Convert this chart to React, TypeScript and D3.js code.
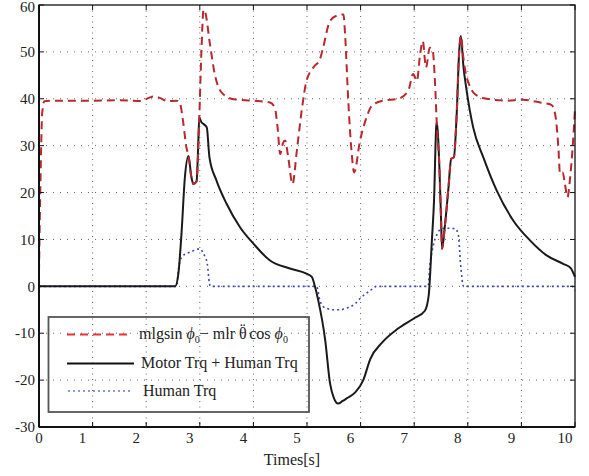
import * as d3 from 'd3';

// mlgsin(phi0) - mlr theta'' cos(phi0)
const gravityT = [0, 0.03, 0.06, 0.1, 0.3, 1.0, 1.5, 1.9, 2.05, 2.15, 2.25, 2.4, 2.57, 2.63, 2.69, 2.75, 2.79, 2.84, 2.88, 2.94, 2.99, 3.03, 3.07, 3.1, 3.19, 3.28, 3.41, 3.63, 4.0, 4.31, 4.4, 4.45, 4.5, 4.55, 4.59, 4.65, 4.73, 4.81, 4.9, 4.99, 5.12, 5.24, 5.3, 5.43, 5.55, 5.68, 5.71, 5.77, 5.83, 5.88, 5.99, 6.11, 6.21, 6.42, 6.7, 6.89, 6.98, 7.05, 7.11, 7.16, 7.22, 7.29, 7.34, 7.39, 7.42, 7.47, 7.5, 7.52, 7.57, 7.64, 7.69, 7.74, 7.79, 7.84, 7.87, 7.92, 7.97, 8.01, 8.13, 8.35, 8.72, 9.03, 9.35, 9.56, 9.63, 9.69, 9.72, 9.77, 9.81, 9.86, 9.91, 9.96, 10.0];
const gravityV = [3, 24, 37, 39.5, 39.6, 39.6, 39.7, 39.5, 40.2, 40.5, 40.2, 39.5, 39.6, 39.0, 35, 29.6, 27.8, 23.5, 21.8, 22.4, 36, 50, 59, 58.5, 51.6, 45.2, 41.3, 39.9, 39.6, 39.2, 38.1, 34, 28.2, 30.5, 31.1, 27.5, 21.8, 28.9, 37.4, 43.8, 46.7, 48.4, 50.9, 56.6, 57.7, 58.0, 53.8, 39.6, 28.9, 24.3, 31.1, 36, 38.5, 39.6, 40, 41.7, 45.3, 43.8, 49.5, 52.3, 46.7, 50.9, 50.6, 43.1, 35, 25.4, 14.7, 8.0, 12.6, 21.1, 27.2, 27.5, 36, 50.2, 53.4, 48.5, 45, 43.5, 41, 40, 39.6, 39.8, 39.2, 38.7, 36.7, 29.6, 24, 24.3, 22, 19, 23.3, 30.3, 37.9];

// Motor Trq + Human Trq
const totalT = [0, 2.54, 2.6, 2.66, 2.72, 2.79, 2.84, 2.88, 2.94, 2.97, 2.99, 3.03, 3.07, 3.13, 3.18, 3.31, 3.5, 3.75, 4.0, 4.31, 4.68, 4.99, 5.09, 5.15, 5.21, 5.34, 5.43, 5.5, 5.58, 5.66, 5.74, 5.9, 6.05, 6.18, 6.4, 6.7, 7.0, 7.2, 7.27, 7.33, 7.37, 7.41, 7.42, 7.47, 7.5, 7.52, 7.57, 7.64, 7.69, 7.74, 7.79, 7.84, 7.87, 7.92, 7.97, 8.1, 8.29, 8.54, 8.85, 9.16, 9.47, 9.78, 9.92, 10.0];
const totalV = [0, 0, 2.7, 11.5, 23, 27.8, 23.5, 21.8, 22.4, 30, 36, 35, 34.6, 33.9, 27.5, 22.6, 17.6, 12.6, 9.1, 5.5, 3.8, 2.7, 2.0, -0.1, -3, -11.5, -20.7, -23.8, -25, -24.5, -23.9, -22.6, -20, -15.5, -12, -9, -6.8, -5.2, -2, 9.8, 18.3, 33.9, 35, 25.4, 14.7, 8.0, 12.6, 21.1, 27.2, 27.5, 36, 50.2, 53.4, 46.7, 42.4, 33.9, 27.5, 20.4, 14, 9.8, 6.6, 4.8, 3.9, 2];

// Human Trq
const humanT = [0, 2.57, 2.6, 2.66, 2.75, 2.82, 3.0, 3.06, 3.1, 3.14, 3.18, 3.2, 5.18, 5.24, 5.3, 5.37, 5.5, 5.62, 5.75, 5.9, 5.99, 6.18, 6.3, 7.26, 7.29, 7.35, 7.43, 7.5, 7.57, 7.76, 7.82, 7.87, 7.92, 9.95, 10.0];
const humanV = [0, 0, 3.4, 6.2, 7, 7.3, 8.0, 7.2, 6.2, 4.8, 0.6, 0, 0, -3, -4.3, -4.7, -5, -5, -4.6, -3.7, -2.6, -0.9, 0, 0, 4.1, 8.4, 11.2, 12.2, 12.4, 12.3, 11.2, 4.1, 0, 0, -0.9];

const xTicks = [0, 1, 2, 3, 4, 5, 6, 7, 8, 9, 10];
const yTicks = [-30, -20, -10, 0, 10, 20, 30, 40, 50, 60];

const font = '"Liberation Serif", "DejaVu Serif", serif';

export default function App() {
  const width = 589;
  const height = 476;
  const margin = { top: 5, right: 14, bottom: 49, left: 39 };

  const x = d3.scaleLinear().domain([0, 10]).range([margin.left, width - margin.right]);
  const y = d3.scaleLinear().domain([-30, 60]).range([height - margin.bottom, margin.top]);

  const line = d3
    .line<[number, number]>()
    .x((d) => x(d[0]))
    .y((d) => y(d[1]))
    .curve(d3.curveMonotoneX);

  const zip = (t: number[], v: number[]) => t.map((d, i) => [d, v[i]] as [number, number]);

  const x0 = x.range()[0];
  const x1 = x.range()[1];
  const y0 = y.range()[0];
  const y1 = y.range()[1];

  return (
    <svg width={width} height={height} style={{ position: 'absolute', left: 0, top: 0, background: '#fff' }}>
      {/* grid */}
      {xTicks.slice(1, -1).map((t) => (
        <line key={'gx' + t} x1={x(t)} x2={x(t)} y1={y1} y2={y0} stroke="#666" strokeWidth={1} strokeDasharray="1,4.5" />
      ))}
      {yTicks.slice(1, -1).map((v) => (
        <line key={'gy' + v} x1={x0} x2={x1} y1={y(v)} y2={y(v)} stroke="#666" strokeWidth={1} strokeDasharray="1,6" />
      ))}

      {/* series */}
      <path d={line(zip(humanT, humanV)) ?? ''} fill="none" stroke="#3a48b0" strokeWidth={1.6} strokeDasharray="2,3" />
      <path d={line(zip(totalT, totalV)) ?? ''} fill="none" stroke="#1a1a1a" strokeWidth={2} />
      <path d={line(zip(gravityT, gravityV)) ?? ''} fill="none" stroke="#b8282e" strokeWidth={2} strokeDasharray="8,5" />

      {/* frame & ticks */}
      <rect x={x0} y={y1} width={x1 - x0} height={y0 - y1} fill="none" stroke="#111" strokeWidth={1.3} />
      <line x1={x0} x2={x0} y1={y1} y2={y0} stroke="#111" strokeWidth={2} />
      <line x1={x0} x2={x1} y1={y0} y2={y0} stroke="#111" strokeWidth={2} />
      {xTicks.map((t) => (
        <g key={'tx' + t}>
          <line x1={x(t)} x2={x(t)} y1={y0} y2={y0 - 5} stroke="#111" />
          <line x1={x(t)} x2={x(t)} y1={y1} y2={y1 + 5} stroke="#111" />
          <text x={x(t) - (t === 0 ? 0 : 10)} y={y0 + 16} textAnchor="middle" fontFamily={font} fontSize={15} fill="#222">
            {t}
          </text>
        </g>
      ))}
      {yTicks.map((v) => (
        <g key={'ty' + v}>
          <line x1={x0} x2={x0 + 5} y1={y(v)} y2={y(v)} stroke="#111" />
          <line x1={x1} x2={x1 - 5} y1={y(v)} y2={y(v)} stroke="#111" />
          <text x={x0 - 4} y={Math.max(y(v), 6.5)} dy="0.35em" textAnchor="end" fontFamily={font} fontSize={15} fill="#222">
            {v}
          </text>
        </g>
      ))}
      <text x={292} y={465} textAnchor="middle" fontFamily={font} fontSize={16} fill="#222">
        Times[s]
      </text>

      {/* legend */}
      <rect x={48.5} y={317} width={260.5} height={95} fill="none" stroke="#555" strokeWidth={1.8} />
      <line x1={67} x2={132} y1={334.5} y2={334.5} stroke="#e0343a" strokeWidth={2} strokeDasharray="8,5" />
      <line x1={67} x2={134} y1={363.5} y2={363.5} stroke="#111" strokeWidth={2} />
      <line x1={68} x2={130} y1={391} y2={391} stroke="#6b78cc" strokeWidth={1.6} strokeDasharray="2,3" />
      <text x={139} y={339} fontFamily={font} fontSize={16} fill="#222">
        mlgsin <tspan fontStyle="italic">ϕ</tspan>
        <tspan fontSize={10} dy={4}>0</tspan>
        <tspan dy={-4}>− mlr θ</tspan>
        <tspan dx={-6.8} dy={-4}>¨</tspan>
        <tspan dx={4} dy={4}>cos </tspan>
        <tspan fontStyle="italic">ϕ</tspan>
        <tspan fontSize={10} dy={4}>0</tspan>
      </text>
      <text x={141} y={368} fontFamily={font} fontSize={16} fill="#222">
        Motor Trq + Human Trq
      </text>
      <text x={143} y={396} fontFamily={font} fontSize={16} fill="#222">
        Human Trq
      </text>
    </svg>
  );
}
